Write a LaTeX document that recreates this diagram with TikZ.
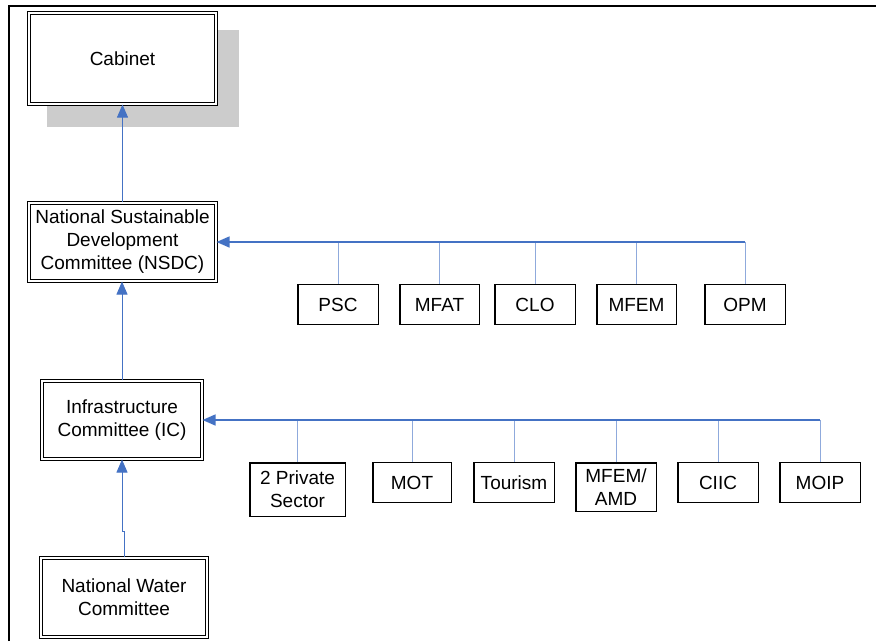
\documentclass[tikz,border=0pt]{standalone}
\usepackage{fontspec}
\setmainfont{Liberation Sans}
\usetikzlibrary{arrows.meta}
\definecolor{mainblue}{HTML}{4472C4}
\definecolor{dropblue}{HTML}{8FAADC}
\definecolor{shadowgray}{HTML}{CCCCCC}
\begin{document}
\begin{tikzpicture}[x=1pt,y=-1pt,
  every node/.style={font=\fontsize{19}{23}\selectfont, align=center, inner sep=0pt},
  dbl/.style={draw=black, fill=white, double=white, line width=1.3pt, double distance=1.4pt},
  sbox/.style={draw=black, fill=white, line width=1.5pt},
  arr/.style={draw=mainblue, line width=0.9pt, -{Triangle[length=13pt,width=11pt]}},
  bus/.style={draw=mainblue, line width=1.6pt, -{Triangle[length=13pt,width=11pt]}},
  drop/.style={draw=dropblue, line width=1pt}]
\useasboundingbox (0,0) rectangle (876,641);
\fill[white] (0,0) rectangle (876,641);
% frame
\draw[line width=2pt] (9,641) -- (9,6) -- (876,6);
% shadow
\fill[shadowgray] (47,30) rectangle (239,127);
% main column
\node[dbl, minimum width=186.8pt, minimum height=90.8pt] (cab) at (122.5,58.5) {Cabinet};
\node[dbl, minimum width=186.8pt, minimum height=77.8pt] (nsdc) at (122.5,242) {National Sustainable\\Development\\Committee (NSDC)};
\node[dbl, minimum width=159.8pt, minimum height=77.8pt] (ic) at (122,420) {Infrastructure\\Committee (IC)};
\node[dbl, minimum width=165.8pt, minimum height=78.8pt] (nwc) at (124,597.5) {National Water\\Committee};
% NSDC members
\node[sbox, minimum width=80.5pt, minimum height=40pt] (psc) at (338,304.5) {PSC};
\node[sbox, minimum width=79.5pt, minimum height=40pt] (mfat) at (439.5,304.5) {MFAT};
\node[sbox, minimum width=80.5pt, minimum height=40pt] (clo) at (535,304.5) {CLO};
\node[sbox, minimum width=79.5pt, minimum height=40pt] (mfem) at (636.5,304.5) {MFEM};
\node[sbox, minimum width=80.5pt, minimum height=40pt] (opm) at (745,304.5) {OPM};
% IC members
\node[sbox, minimum width=95.5pt, minimum height=53.5pt] (priv) at (297.5,489.5) {2 Private\\Sector};
\node[sbox, minimum width=78.5pt, minimum height=40pt] (mot) at (412,482.5) {MOT};
\node[sbox, minimum width=80.5pt, minimum height=40pt] (tour) at (514,482.5) {Tourism};
\node[sbox, minimum width=80.5pt, minimum height=48.5pt] (amd) at (616,487) {MFEM/\\AMD};
\node[sbox, minimum width=80.5pt, minimum height=40pt] (ciic) at (718,482.5) {CIIC};
\node[sbox, minimum width=80.5pt, minimum height=40pt] (moip) at (820,482.5) {MOIP};
% vertical arrows
\draw[arr] (nsdc.north) -- (cab.south);
\draw[arr] (ic.north) -- (ic.north |- nsdc.south);
\draw[arr] (nwc.north) -- ++(0,-26) -| (ic.south);
% NSDC bus
\foreach \n in {psc,mfat,clo,mfem,opm}{
  \draw[drop] (\n.north) -- (\n.north |- nsdc.east);
}
\draw[bus] (opm.north |- nsdc.east) -- (nsdc.east);
% IC bus
\foreach \n in {priv,mot,tour,amd,ciic,moip}{
  \draw[drop] (\n.north) -- (\n.north |- ic.east);
}
\draw[bus] (moip.north |- ic.east) -- (ic.east);
\end{tikzpicture}
\end{document}
